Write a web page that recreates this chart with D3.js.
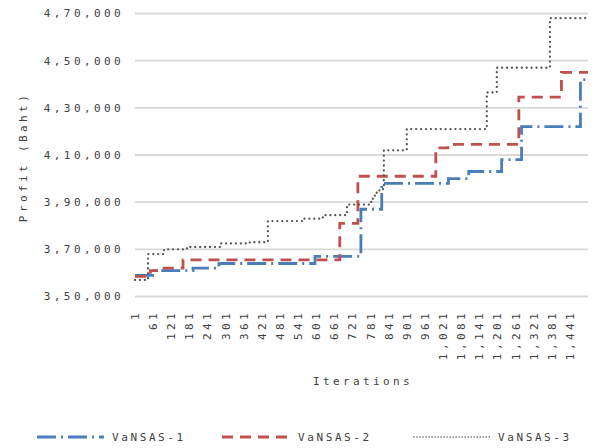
<!DOCTYPE html>
<html>
<head>
<meta charset="utf-8">
<script src="https://cdn.jsdelivr.net/npm/d3@7"></script>
<style>
  body { margin: 0; background: #fff; }
  svg text { font-family: "DejaVu Sans Mono", monospace; font-size: 11px; letter-spacing: 3.4px; fill: #404040; }
  svg text.legend { letter-spacing: 2.6px; }
</style>
</head>
<body>
<svg id="chart" width="596" height="448"></svg>
<script>
// step series: [first iteration of the step, profit]
const totalIterations = 1500;
const vansas1 = [[1, 359000], [67, 361000], [193, 362000], [279, 364000], [597, 367000], [749, 387000],
  [818, 398000], [1039, 400000], [1106, 403000], [1215, 408000], [1281, 422000], [1476, 442000]];
const vansas2 = [[1, 358500], [52, 361000], [85, 362000], [160, 365500], [679, 381000], [739, 401000],
  [997, 413000], [1037, 414500], [1272, 434500], [1413, 445000]];
const vansas3 = [[1, 357000], [44, 368000], [97, 370000], [173, 371000], [282, 372500], [381, 373000],
  [441, 382000], [557, 383000], [623, 384500], [703, 389000], [783, 391500], [795, 394000], [810, 395500],
  [825, 412000], [901, 421000], [1166, 436500], [1199, 447000], [1375, 468000]];
const seriesNames = ['VaNSAS-1', 'VaNSAS-2', 'VaNSAS-3'];
const yTicks = [350000, 370000, 390000, 410000, 430000, 450000, 470000];
const xTicks = [1, 61, 121, 181, 241, 301, 361, 421, 481, 541, 601, 661, 721, 781, 841, 901, 961,
  1021, 1081, 1141, 1201, 1261, 1321, 1381, 1441];

const styles = [
  {color: '#4a7ebb', width: 2.8, dash: '19,5,2,5', cap: 'butt'},
  {color: '#c0504d', width: 2.8, dash: '11,7', cap: 'butt'},
  {color: '#555555', width: 2.3, dash: '0.01,4.9', cap: 'round'}
];

// indian grouping: 3,50,000
function inr(v) {
  let s = String(v);
  let last3 = s.slice(-3), rest = s.slice(0, -3);
  if (!rest) return last3;
  return rest.replace(/\B(?=(\d{2})+(?!\d))/g, ',') + ',' + last3;
}

let svg = d3.select('#chart');
let plotL = 135, plotR = 588, plotT = 13.5, plotB = 296.5;

let x = d3.scaleLinear().domain([1, totalIterations + 1]).range([plotL, plotR]);
let y = d3.scaleLinear().domain([350000, 470000]).range([plotB, plotT]);

// grid
svg.append('g').selectAll('line')
  .data(yTicks)
  .enter().append('line')
  .attr('x1', plotL).attr('x2', plotR)
  .attr('y1', d => y(d)).attr('y2', d => y(d))
  .attr('stroke', '#d9d9d9').attr('stroke-width', 1.8);

// y labels
svg.append('g').selectAll('text')
  .data(yTicks)
  .enter().append('text')
  .attr('x', 124).attr('y', d => y(d))
  .attr('dy', '0.35em')
  .attr('text-anchor', 'end')
  .text(d => inr(d));

// x labels, rotated
svg.append('g').selectAll('text')
  .data(xTicks)
  .enter().append('text')
  .attr('transform', d => 'translate(' + x(d + 0.5) + ',310) rotate(-90)')
  .attr('dy', '0.35em')
  .attr('text-anchor', 'end')
  .text(d => d3.format(',')(d));

svg.append('text')
  .attr('x', 363).attr('y', 385)
  .attr('text-anchor', 'middle')
  .text('Iterations');

svg.append('text')
  .attr('transform', 'translate(27,157) rotate(-90)')
  .attr('text-anchor', 'middle')
  .text('Profit (Baht)');

// lines
let line = d3.line()
  .x(d => x(d[0]))
  .y(d => y(d[1]))
  .curve(d3.curveStepAfter);

[vansas1, vansas2, vansas3].forEach(function (s, k) {
  let pts = s.concat([[totalIterations + 1, s[s.length - 1][1]]]);
  svg.append('path')
    .datum(pts)
    .attr('d', line)
    .attr('fill', 'none')
    .attr('stroke', styles[k].color)
    .attr('stroke-width', styles[k].width)
    .attr('stroke-dasharray', styles[k].dash)
    .attr('stroke-linecap', styles[k].cap);
});

// legend
const legendX = [[37, 104], [222, 290], [414, 490]];
let leg = svg.append('g').selectAll('g')
  .data(seriesNames)
  .enter().append('g');

leg.append('line')
  .attr('x1', (d, i) => legendX[i][0]).attr('x2', (d, i) => legendX[i][1])
  .attr('y1', 437).attr('y2', 437)
  .attr('stroke', (d, i) => styles[i].color)
  .attr('stroke-width', (d, i) => i == 2 ? 1.6 : 2.8)
  .attr('stroke-dasharray', (d, i) => i == 2 ? '0.01,3' : styles[i].dash)
  .attr('stroke-linecap', (d, i) => styles[i].cap);

leg.append('text')
  .attr('class', 'legend')
  .attr('x', (d, i) => legendX[i][1] + 8)
  .attr('y', 437).attr('dy', '0.35em')
  .text(d => d);
</script>
</body>
</html>
